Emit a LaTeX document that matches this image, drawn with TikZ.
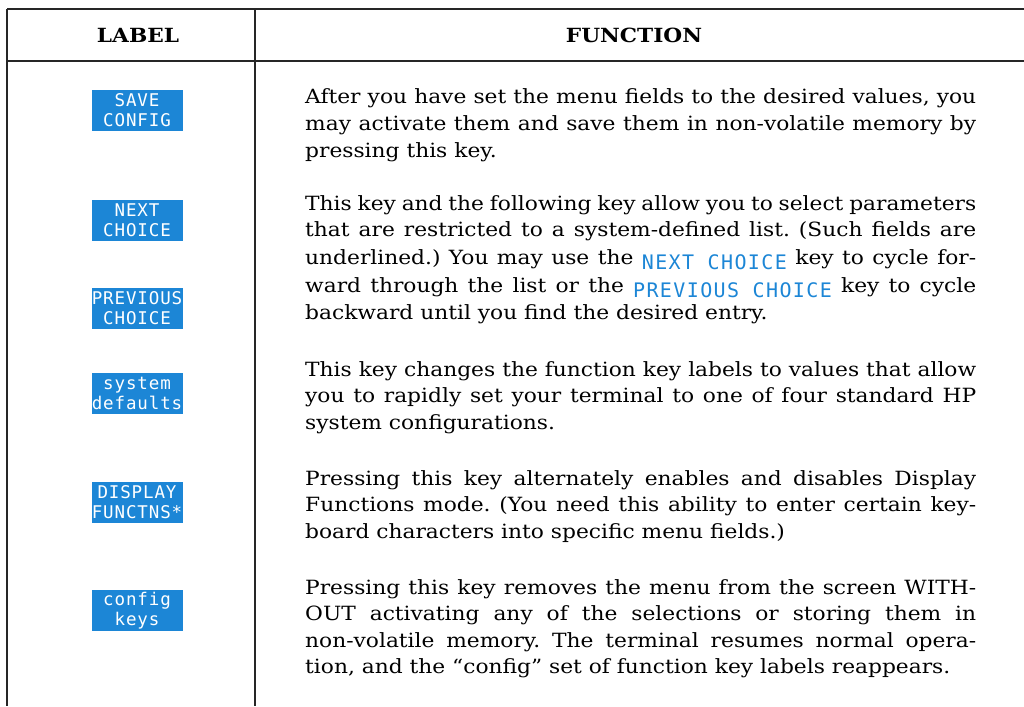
\documentclass[tikz,border=0pt]{standalone}
\usepackage{fontspec}
\setmainfont[FakeStretch=1.11]{DejaVu Serif}
\newfontfamily\keyfont[LetterSpace=5]{DejaVu Sans Mono}
\newfontfamily\inkeyfont[LetterSpace=7]{DejaVu Sans Mono}
\definecolor{keyblue}{RGB}{28,134,214}
\tikzset{
  rule/.style={line width=1.8pt, black!85},
  keybox/.style={fill=keyblue, text=white, minimum width=91pt, minimum height=41pt,
    inner sep=0pt, align=center, font=\keyfont\fontsize{17.5}{20}\selectfont},
  head/.style={font=\bfseries\fontsize{19.5}{22}\selectfont, anchor=base},
  txt/.style={anchor=base west, inner sep=0pt, font=\fontsize{19.6}{22}\selectfont},
}
\frenchspacing
\newcommand{\fl}[1]{\makebox[671pt][s]{#1}}
\newcommand{\ik}[1]{\raisebox{-5pt}{\textcolor{keyblue}{\inkeyfont\fontsize{20}{22}\selectfont #1}}}
\begin{document}
\begin{tikzpicture}[x=1pt,y=-1pt]
\useasboundingbox (0,0) rectangle (1024,706);
\fill[white] (0,0) rectangle (1024,706);
% table rules
\coordinate (tl) at (7,9);
\coordinate (tr) at (1024,9);
\coordinate (hl) at (7,61);
\coordinate (hr) at (1024,61);
\coordinate (bl) at (7,706);
\coordinate (mt) at (255,9);
\coordinate (mb) at (255,706);
\draw[rule] (tl) -- (tr);
\draw[rule] (hl) -- (hr);
\draw[rule] (tl) -- (bl);
\draw[rule] (mt) -- (mb);
% headings
\node[head] (hlabel) at (138,43) {LABEL};
\node[head] (hfunc) at (634,43) {FUNCTION};
% key labels
\node[keybox] (k1) at (137,110.5) {SAVE\\CONFIG};
\node[keybox] (k2) at (137,220.5) {NEXT\\CHOICE};
\node[keybox] (k3) at (137,308) {PREVIOUS\\CHOICE};
\node[keybox] (k4) at (137,393.5) {system\\defaults};
\node[keybox] (k5) at (137,502) {DISPLAY\\FUNCTNS*};
\node[keybox] (k6) at (137,610.5) {config\\keys};
% descriptions
\node[txt] (a1) at (305,104) {\fl{After you have set the menu fields to the desired values, you}};
\node[txt] (a2) at (305,130.5) {\fl{may activate them and save them in non-volatile memory by}};
\node[txt] (a3) at (305,157) {pressing this key.};
\node[txt] (b1) at (305,210) {\fl{This key and the following key allow you to select parameters}};
\node[txt] (b2) at (305,236.5) {\fl{that are restricted to a system-defined list. (Such fields are}};
\node[txt] (b3) at (305,264) {\fl{underlined.) You may use the \ik{NEXT CHOICE} key to cycle for-}};
\node[txt] (b4) at (305,292) {\fl{ward through the list or the \ik{PREVIOUS CHOICE} key to cycle}};
\node[txt] (b5) at (305,319) {backward until you find the desired entry.};
\node[txt] (c1) at (305,376) {\fl{This key changes the function key labels to values that allow}};
\node[txt] (c2) at (305,402.5) {\fl{you to rapidly set your terminal to one of four standard HP}};
\node[txt] (c3) at (305,429) {system configurations.};
\node[txt] (d1) at (305,485) {\fl{Pressing this key alternately enables and disables Display}};
\node[txt] (d2) at (305,511.5) {\fl{Functions mode. (You need this ability to enter certain key-}};
\node[txt] (d3) at (305,538) {board characters into specific menu fields.)};
\node[txt] (e1) at (305,594) {\fl{Pressing this key removes the menu from the screen WITH-}};
\node[txt] (e2) at (305,620.5) {\fl{OUT activating any of the selections or storing them in}};
\node[txt] (e3) at (305,647) {\fl{non-volatile memory. The terminal resumes normal opera-}};
\node[txt] (e4) at (305,673.5) {tion, and the ``config'' set of function key labels reappears.};
\end{tikzpicture}
\end{document}
